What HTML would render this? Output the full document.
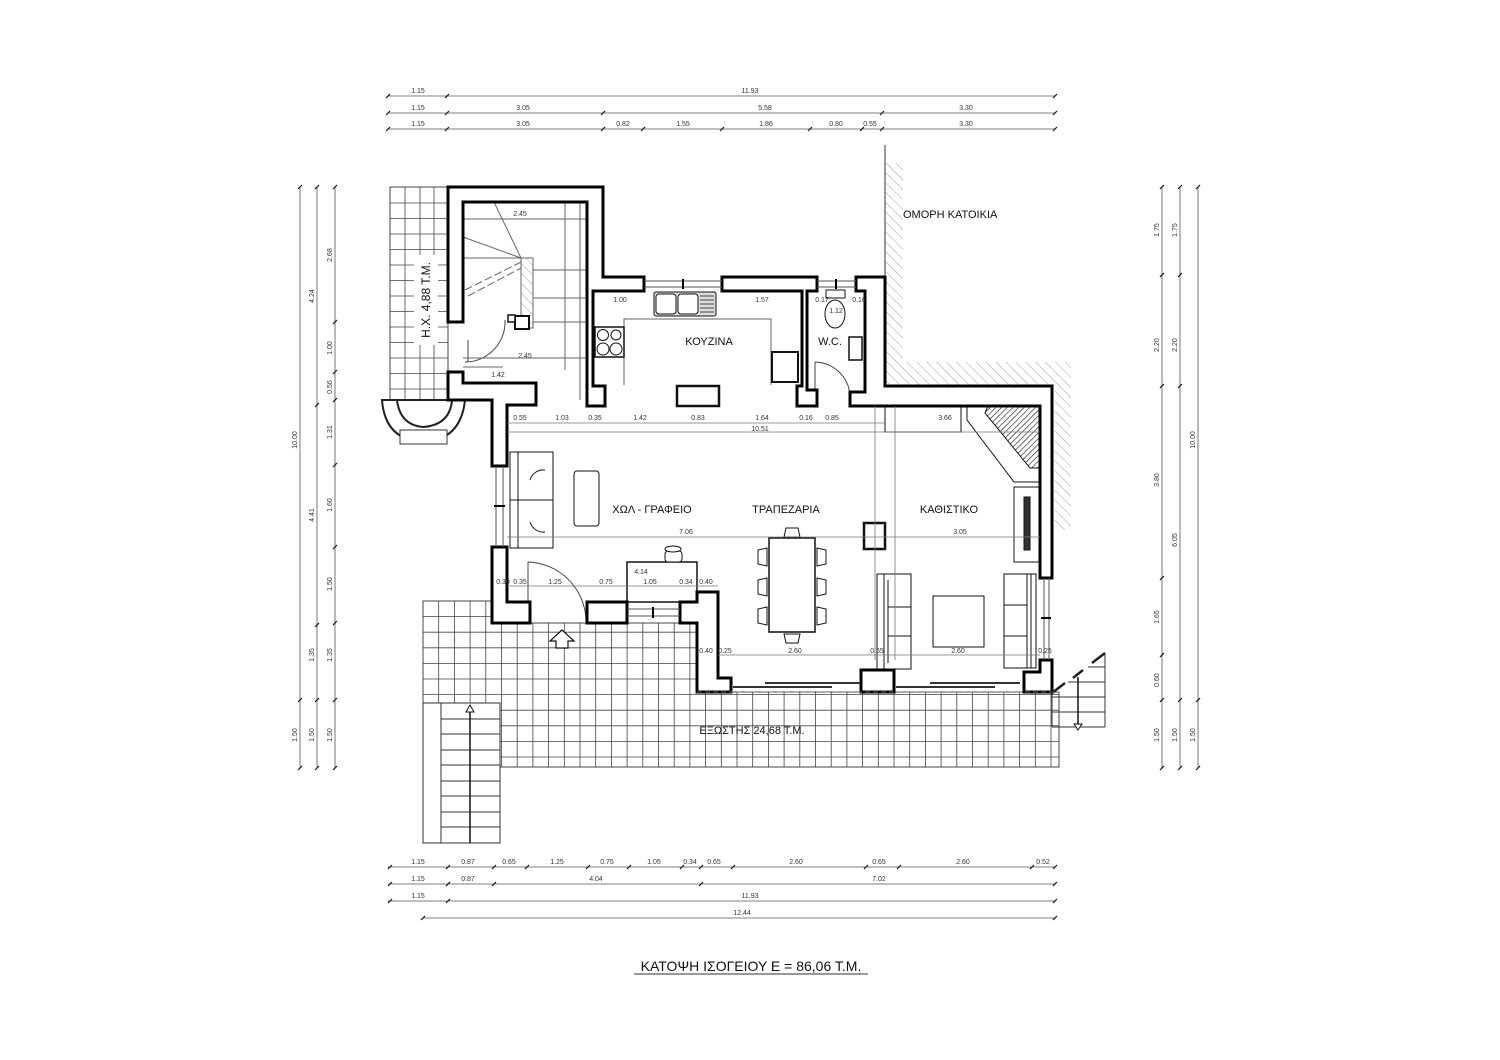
<!DOCTYPE html>
<html><head><meta charset="utf-8"><style>
html,body{margin:0;padding:0;background:#fff}
svg{display:block}
.d{font-family:"Liberation Sans",sans-serif;font-size:7px;fill:#333}
.r{font-family:"Liberation Sans",sans-serif;font-size:11px;fill:#111}
</style></head><body>
<svg id="s" width="1500" height="1060" viewBox="0 0 1500 1060" xmlns="http://www.w3.org/2000/svg">
<defs>
<clipPath id="terr"><polygon points="423,601 491,601 491,623 696,623 696,692 1059,692 1059,767 500,767 500,703 423,703"/></clipPath>
<clipPath id="tl"><rect x="390" y="187" width="58" height="213"/></clipPath>
<pattern id="hatch" width="7" height="7" patternUnits="userSpaceOnUse" patternTransform="rotate(-45)">
<line x1="0" y1="0" x2="0" y2="7" stroke="#777" stroke-width="0.7"/>
</pattern>
<pattern id="hatch2" width="4" height="4" patternUnits="userSpaceOnUse" patternTransform="rotate(45)">
<line x1="0" y1="0" x2="0" y2="4" stroke="#111" stroke-width="1.2"/>
</pattern>
</defs>

<!-- terrace tiles -->
<g clip-path="url(#terr)" stroke="#444" stroke-width="0.8" fill="none">
<path d="M423 601V767M438.7 601V767M454.4 601V767M470.1 601V767M485.8 601V767M501.5 601V767M517.2 601V767M532.9 601V767M548.6 601V767M564.3 601V767M580 601V767M595.7 601V767M611.4 601V767M627.1 601V767M642.8 601V767M658.5 601V767M674.2 601V767M689.9 601V767M705.6 601V767M721.3 601V767M737 601V767M752.7 601V767M768.4 601V767M784.1 601V767M799.8 601V767M815.5 601V767M831.2 601V767M846.9 601V767M862.6 601V767M878.3 601V767M894 601V767M909.7 601V767M925.4 601V767M941.1 601V767M956.8 601V767M972.5 601V767M988.2 601V767M1003.9 601V767M1019.6 601V767M1035.3 601V767M1051 601V767"/>
<path d="M423 601H1059M423 616.6H1059M423 632.2H1059M423 647.8H1059M423 663.4H1059M423 679H1059M423 694.6H1059M423 710.2H1059M423 725.8H1059M423 741.4H1059M423 757H1059"/>
</g>
<polygon points="423,601 491,601 491,623 696,623 696,692 1059,692 1059,767 500,767 500,703 423,703" fill="none" stroke="#444" stroke-width="1"/>
<!-- top-left tiles -->
<g clip-path="url(#tl)" stroke="#444" stroke-width="0.8" fill="none">
<path d="M390 187V400M405 187V400M420 187V400M434 187V400"/>
<path d="M390 203H448M390 218.5H448M390 234H448M390 249.5H448M390 265H448M390 280.5H448M390 296H448M390 311.5H448M390 327H448M390 342.5H448M390 358H448M390 373.5H448M390 389H448"/>
</g>
<rect x="390" y="187" width="58" height="213" fill="none" stroke="#444"/>
<rect x="414" y="255" width="24" height="90" fill="#fff"/>
<!-- bay -->
<path d="M382 400 Q385 440 423 442 Q461 440 465 400 Z" fill="#fff" stroke="#222" stroke-width="2"/>
<path d="M397 400 Q400 425 423 427 Q450 425 452 400" fill="none" stroke="#222" stroke-width="2"/>
<rect x="400" y="430" width="47" height="14" fill="#fff" stroke="#333"/>
<text class="r" transform="translate(430,300) rotate(-90)" text-anchor="middle" style="font-size:12px">Η.Χ. 4,88 Τ.Μ.</text>

<!-- left bottom stair -->
<rect x="423" y="703" width="77" height="140" fill="#fff" stroke="#333"/>
<line x1="441" y1="703" x2="441" y2="843" stroke="#333"/>
<g stroke="#333"><line x1="441" y1="719" x2="500" y2="719"/><line x1="441" y1="734" x2="500" y2="734"/><line x1="441" y1="750" x2="500" y2="750"/><line x1="441" y1="765" x2="500" y2="765"/><line x1="441" y1="781" x2="500" y2="781"/><line x1="441" y1="796" x2="500" y2="796"/><line x1="441" y1="812" x2="500" y2="812"/><line x1="441" y1="827" x2="500" y2="827"/></g>
<line x1="470" y1="706" x2="470" y2="843" stroke="#111" stroke-width="1.5"/>
<path d="M466 712 L470 705 L474 712 Z" fill="#fff" stroke="#111"/>

<!-- right stair -->
<g stroke="#333" fill="none"><line x1="1052" y1="692" x2="1052" y2="727"/><line x1="1105" y1="653" x2="1105" y2="727"/>
<line x1="1088" y1="667" x2="1105" y2="667"/><line x1="1068" y1="682" x2="1105" y2="682"/><line x1="1052" y1="697" x2="1105" y2="697"/><line x1="1052" y1="712" x2="1105" y2="712"/><line x1="1052" y1="727" x2="1105" y2="727"/></g>
<g stroke="#222" stroke-width="2.5"><line x1="1052" y1="693" x2="1065" y2="683"/><line x1="1073" y1="678" x2="1083" y2="670"/><line x1="1092" y1="663" x2="1105" y2="653"/></g>
<line x1="1078" y1="677" x2="1078" y2="726" stroke="#111" stroke-width="1.5"/>
<path d="M1074 724 L1078 730 L1082 724 Z" fill="#fff" stroke="#111"/>

<!-- neighbor hatch -->
<line x1="885" y1="145" x2="885" y2="277" stroke="#333"/>
<path d="M885 163 H903 V362 H1071 V530 H1055 V386 H885 Z" fill="url(#hatch)"/>
<text class="r" x="903" y="218">ΟΜΟΡΗ ΚΑΤΟΙΚΙΑ</text>

<!-- furniture / fixtures -->
<g fill="#fff" stroke="#111" stroke-width="1">
<line x1="463" y1="219" x2="588" y2="219" stroke="#666"/>
<line x1="463" y1="258" x2="521" y2="258" stroke="#666"/>
<line x1="533" y1="270" x2="588" y2="270" stroke="#666"/>
<line x1="533" y1="298" x2="588" y2="298" stroke="#666"/>
<line x1="533" y1="322" x2="588" y2="322" stroke="#666"/>
<line x1="494" y1="202" x2="521" y2="258" stroke="#666"/>
<line x1="463" y1="237" x2="521" y2="258" stroke="#666"/>
<line x1="465" y1="290" x2="521" y2="262" stroke="#666" stroke-dasharray="8 3"/>
<line x1="468" y1="296" x2="521" y2="268" stroke="#666" stroke-dasharray="8 3"/>
<line x1="565" y1="202" x2="565" y2="370" stroke="#666"/>
<line x1="580" y1="202" x2="580" y2="400" stroke="#666"/>
<rect x="521" y="258" width="12" height="70" stroke="#666" style="fill:url(#hatch)"/>
<rect x="515" y="316" width="14" height="13" stroke-width="2"/>
<rect x="508" y="315" width="7" height="7" stroke-width="1.5"/>
<path d="M468 340 L468 362 M465 362 A40 40 0 0 0 505 320" fill="none" stroke="#444"/>
<line x1="463" y1="358" x2="588" y2="358" stroke="#666"/>
<line x1="463" y1="367" x2="503" y2="367" stroke="#666"/>
<path d="M624 385 V319 H771 V385" fill="none" stroke="#666"/>
<rect x="654" y="292" width="62" height="24" rx="2" fill="#ddd" stroke="#111"/>
<rect x="656" y="294" width="20" height="20" rx="3"/>
<rect x="678" y="294" width="20" height="20" rx="3"/>
<path d="M700 296 H714 M700 300 H714 M700 304 H714 M700 308 H714 M700 312 H714" stroke="#444"/>
<rect x="595" y="327" width="29" height="30" stroke-width="1.5"/>
<circle cx="603" cy="335" r="5.5"/><circle cx="616" cy="335" r="5"/><circle cx="603" cy="349" r="6"/><circle cx="616" cy="349" r="6"/>
<rect x="772" y="352" width="26" height="30" stroke-width="2"/>
<rect x="677" y="386" width="42" height="20" stroke-width="2.5"/>
<rect x="826" y="290" width="19" height="8"/>
<ellipse cx="835" cy="314" rx="10" ry="14"/>
<rect x="849" y="337" width="13" height="23" stroke-width="1.5"/>
<path d="M815 362 V400 M815 362 A36 36 0 0 1 850 395" fill="none" stroke="#444"/>
<rect x="510" y="452" width="43" height="96"/>
<line x1="518" y1="452" x2="518" y2="548"/><line x1="510" y1="500" x2="553" y2="500"/>
<path d="M530 480 A14 14 0 0 1 545 470 M530 522 A14 14 0 0 0 545 532" fill="none"/>
<rect x="574" y="471" width="25" height="55" rx="3"/>
<path d="M528 562 V622 M528 562 A60 60 0 0 1 586 620" fill="none" stroke="#444"/>
<rect x="627" y="562" width="70" height="40" stroke-width="1.5"/>
<rect x="665" y="551" width="17" height="11" rx="3"/>
<ellipse cx="673" cy="549" rx="8" ry="3"/>
<path d="M550 641 L556 641 L556 648 L568 648 L568 641 L574 641 L562 630 Z" stroke-width="1.2"/>
<rect x="769" y="538" width="46" height="94" stroke-width="1.5"/>
<path d="M784 537 L786 528 L798 528 L800 537 Z M784 634 L786 643 L798 643 L800 634 Z"/>
<path d="M767 548 L758 550 L758 564 L767 566 Z M767 578 L758 580 L758 594 L767 596 Z M767 607 L758 609 L758 623 L767 625 Z"/>
<path d="M817 548 L826 550 L826 564 L817 566 Z M817 578 L826 580 L826 594 L817 596 Z M817 607 L826 609 L826 623 L817 625 Z"/>
<rect x="864" y="523" width="21" height="26" stroke-width="2.5"/>
<rect x="877" y="574" width="34" height="95"/>
<line x1="884" y1="574" x2="884" y2="669"/><line x1="888" y1="580" x2="888" y2="663"/>
<line x1="888" y1="607" x2="911" y2="607"/><line x1="888" y1="636" x2="911" y2="636"/>
<rect x="933" y="596" width="51" height="51"/>
<rect x="1004" y="574" width="32" height="94"/>
<line x1="1027" y1="574" x2="1027" y2="668"/><line x1="1031" y1="574" x2="1031" y2="668"/>
<line x1="1004" y1="605" x2="1027" y2="605"/><line x1="1004" y1="636" x2="1027" y2="636"/>
<rect x="885" y="406" width="76" height="26"/>
<rect x="1014" y="487" width="26" height="75"/>
<rect x="1024" y="497" width="6" height="53" fill="#333"/>
<polygon points="967,406 1040,406 1040,482 1014,482 967,420"/>
<polygon points="988,406 1040,406 1040,468 1030,468 985,413" fill="url(#hatch2)"/>
</g>

<!-- walls -->
<g fill="#fff" stroke="#000" stroke-width="3" stroke-linejoin="miter">
<polygon points="448,187 603,187 603,277 644,277 644,291 593,291 593,386 605,386 605,406 587,406 587,202 463,202 463,322 448,322"/>
<polygon points="722,277 817,277 817,291 807,291 807,390 817,390 817,406 797,406 797,386 802,386 802,291 722,291"/>
<polygon points="856,277 885,277 885,386 1052,386 1052,578 1040,578 1040,406 850,406 850,392 865,392 865,291 856,291"/>
<polygon points="448,372 463,372 463,383 536,383 536,405 507,405 507,466 492,466 492,400 448,400"/>
<polygon points="492,547 507,547 507,602 530,602 530,623 492,623"/>
<rect x="587" y="602" width="40" height="21"/>
<polygon points="680,602 697,602 697,592 718,592 718,678 731,678 731,692 697,692 697,623 680,623"/>
<rect x="861" y="670" width="33" height="22"/>
<polygon points="1040,660 1052,660 1052,692 1024,692 1024,672 1040,672"/>
</g>
<g stroke="#555" stroke-width="1" fill="none">
<path d="M644 281 H722 M644 287 H722"/><path d="M817 281 H856 M817 287 H856"/>
<path d="M496 466 V547 M503 466 V547"/><path d="M1044 578 V660 M1049 578 V660"/>
<path d="M627 609 H680 M627 616 H680"/>
</g>
<g stroke="#000" stroke-width="2"><path d="M683 279 V289 M836 279 V289 M494 506 H505 M1041 618 H1051 M653 607 V618"/></g>
<g stroke="#333" stroke-width="2"><path d="M733 687 H832 M765 683 H860"/><path d="M896 687 H995 M930 683 H1020"/></g>
<path d="M697 692 H1059" stroke="#666" stroke-dasharray="5 3"/>

<g class="r" text-anchor="middle">
<text x="709" y="345">ΚΟΥΖΙΝΑ</text><text x="830" y="345">W.C.</text>
<text x="652" y="513">ΧΩΛ - ΓΡΑΦΕΙΟ</text><text x="786" y="513">ΤΡΑΠΕΖΑΡΙΑ</text><text x="949" y="513">ΚΑΘΙΣΤΙΚΟ</text>
<text x="752" y="734">ΕΞΩΣΤΗΣ 24,68 Τ.Μ.</text>
</g>

<g stroke="#777" stroke-width="0.8" fill="none">
<path d="M507 423 H885 M507 432 H1040 M507 537 H1040 M507 586 H718 M718 655 H1040 M875 406 V660 M895 406 V660"/>
</g>
<g class="d" text-anchor="middle">
<text x="520" y="420">0.55</text><text x="562" y="420">1.03</text><text x="595" y="420">0.35</text><text x="640" y="420">1.42</text><text x="698" y="420">0.83</text><text x="762" y="420">1.64</text><text x="806" y="420">0.16</text><text x="832" y="420">0.85</text><text x="945" y="420">3.66</text>
<text x="760" y="431">10.51</text><text x="686" y="534">7.06</text><text x="960" y="534">3.05</text>
<text x="520" y="216">2.45</text><text x="525" y="358">2.45</text><text x="498" y="377">1.42</text>
<text x="620" y="302">1.00</text><text x="762" y="302">1.57</text><text x="822" y="302">0.17</text><text x="859" y="302">0.16</text><text x="836" y="313">1.12</text>
<text x="555" y="584">1.25</text><text x="606" y="584">0.75</text><text x="650" y="584">1.05</text><text x="686" y="584">0.34</text><text x="706" y="584">0.40</text><text x="641" y="574">4.14</text><text x="503" y="584">0.30</text><text x="520" y="584">0.35</text>
<text x="706" y="653">0.40</text><text x="725" y="653">0.25</text><text x="795" y="653">2.60</text><text x="877" y="653">0.65</text><text x="958" y="653">2.60</text><text x="1045" y="653">0.25</text>
</g>

<g stroke="#555" stroke-width="0.8" fill="none">
<path d="M388 96 H1055 M388 113 H1055 M388 129 H1055"/>
<path d="M388 867 H1055 M388 884 H1055 M388 901 H1055 M423 918 H1055"/>
<path d="M300 187 V768 M317 187 V768 M335 187 V768"/>
<path d="M1162 187 V768 M1180 187 V768 M1198 187 V768"/>
</g>
<g stroke="#111" stroke-width="1.2">
<path d="M386 98 l4 -4 M445 98 l4 -4 M1053 98 l4 -4"/>
<path d="M386 115 l4 -4 M445 115 l4 -4 M601 115 l4 -4 M880 115 l4 -4 M1053 115 l4 -4"/>
<path d="M386 131 l4 -4 M445 131 l4 -4 M601 131 l4 -4 M641 131 l4 -4 M720 131 l4 -4 M808 131 l4 -4 M860 131 l4 -4 M880 131 l4 -4 M1053 131 l4 -4"/>
<path d="M388 869 l4 -4 M446 869 l4 -4 M492 869 l4 -4 M525 869 l4 -4 M586 869 l4 -4 M627 869 l4 -4 M680 869 l4 -4 M699 869 l4 -4 M731 869 l4 -4 M864 869 l4 -4 M897 869 l4 -4 M1030 869 l4 -4 M1053 869 l4 -4"/>
<path d="M388 886 l4 -4 M446 886 l4 -4 M492 886 l4 -4 M699 886 l4 -4 M1053 886 l4 -4"/>
<path d="M388 903 l4 -4 M446 903 l4 -4 M1053 903 l4 -4"/>
<path d="M421 920 l4 -4 M1053 920 l4 -4"/>
<path d="M298 189 l4 -4 M315 189 l4 -4 M333 189 l4 -4 M298 702 l4 -4 M298 770 l4 -4 M315 407 l4 -4 M315 627 l4 -4 M315 702 l4 -4 M315 770 l4 -4"/>
<path d="M333 324 l4 -4 M333 374 l4 -4 M333 402 l4 -4 M333 467 l4 -4 M333 549 l4 -4 M333 625 l4 -4 M333 702 l4 -4 M333 770 l4 -4"/>
<path d="M1160 189 l4 -4 M1178 189 l4 -4 M1196 189 l4 -4 M1160 277 l4 -4 M1178 277 l4 -4 M1160 388 l4 -4 M1178 388 l4 -4 M1160 580 l4 -4 M1160 657 l4 -4 M1160 702 l4 -4 M1178 702 l4 -4 M1196 702 l4 -4 M1160 770 l4 -4 M1178 770 l4 -4 M1196 770 l4 -4"/>
</g>
<g class="d" text-anchor="middle">
<text x="418" y="93">1.15</text><text x="750" y="93">11.93</text>
<text x="418" y="110">1.15</text><text x="523" y="110">3.05</text><text x="765" y="110">5.58</text><text x="966" y="110">3.30</text>
<text x="418" y="126">1.15</text><text x="523" y="126">3.05</text><text x="623" y="126">0.82</text><text x="683" y="126">1.55</text><text x="766" y="126">1.86</text><text x="836" y="126">0.80</text><text x="870" y="126">0.55</text><text x="966" y="126">3.30</text>
<text x="418" y="864">1.15</text><text x="468" y="864">0.87</text><text x="509" y="864">0.65</text><text x="557" y="864">1.25</text><text x="607" y="864">0.75</text><text x="654" y="864">1.05</text><text x="690" y="864">0.34</text><text x="714" y="864">0.65</text><text x="796" y="864">2.60</text><text x="879" y="864">0.65</text><text x="963" y="864">2.60</text><text x="1043" y="864">0.52</text>
<text x="418" y="881">1.15</text><text x="468" y="881">0.87</text><text x="596" y="881">4.04</text><text x="879" y="881">7.02</text>
<text x="418" y="898">1.15</text><text x="750" y="898">11.93</text>
<text x="742" y="915">12.44</text>
</g>
<g class="d" text-anchor="middle">
<text transform="translate(297,440) rotate(-90)">10.00</text><text transform="translate(297,735) rotate(-90)">1.50</text>
<text transform="translate(314,296) rotate(-90)">4.24</text><text transform="translate(314,515) rotate(-90)">4.41</text><text transform="translate(314,655) rotate(-90)">1.35</text><text transform="translate(314,735) rotate(-90)">1.50</text>
<text transform="translate(332,255) rotate(-90)">2.68</text><text transform="translate(332,348) rotate(-90)">1.00</text><text transform="translate(332,387) rotate(-90)">0.56</text><text transform="translate(332,432) rotate(-90)">1.31</text><text transform="translate(332,505) rotate(-90)">1.60</text><text transform="translate(332,584) rotate(-90)">1.50</text><text transform="translate(332,655) rotate(-90)">1.35</text><text transform="translate(332,735) rotate(-90)">1.50</text>
<text transform="translate(1159,230) rotate(-90)">1.75</text><text transform="translate(1159,345) rotate(-90)">2.20</text><text transform="translate(1159,480) rotate(-90)">3.80</text><text transform="translate(1159,617) rotate(-90)">1.65</text><text transform="translate(1159,680) rotate(-90)">0.60</text><text transform="translate(1159,735) rotate(-90)">1.50</text>
<text transform="translate(1177,230) rotate(-90)">1.75</text><text transform="translate(1177,345) rotate(-90)">2.20</text><text transform="translate(1177,540) rotate(-90)">6.05</text><text transform="translate(1177,735) rotate(-90)">1.50</text>
<text transform="translate(1195,440) rotate(-90)">10.00</text><text transform="translate(1195,735) rotate(-90)">1.50</text>
</g>

<text x="751" y="971" text-anchor="middle" style="font-family:'Liberation Sans',sans-serif;font-size:14px;fill:#111">ΚΑΤΟΨΗ ΙΣΟΓΕΙΟΥ Ε = 86,06 Τ.Μ.</text>
<line x1="634" y1="974" x2="868" y2="974" stroke="#333" stroke-width="1"/>
</svg>
</body></html>
